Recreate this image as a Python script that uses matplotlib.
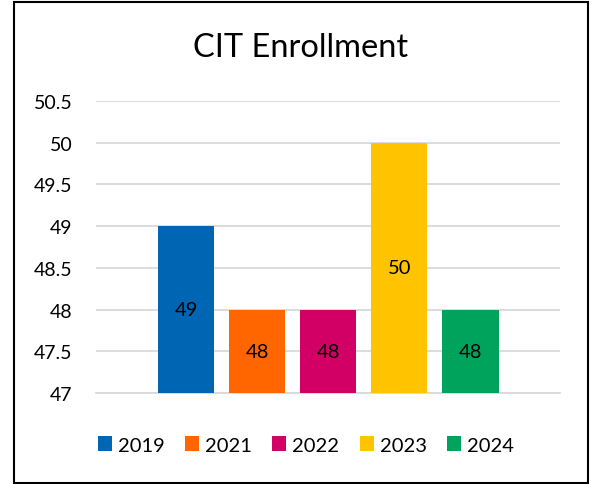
import matplotlib
matplotlib.use("Agg")
import matplotlib.pyplot as plt
from matplotlib.patches import Rectangle

categories = ["2019", "2021", "2022", "2023", "2024"]
values = [49, 48, 48, 50, 48]
colors = ["#0066B3", "#FF6600", "#D20064", "#FFC300", "#00A35C"]
yticks = [47, 47.5, 48, 48.5, 49, 49.5, 50, 50.5]
ytick_labels = ["47", "47.5", "48", "48.5", "49", "49.5", "50", "50.5"]
title = "CIT Enrollment"

plt.rcParams['font.family'] = ['Lato', 'DejaVu Sans']

fig = plt.figure(figsize=(5.91, 4.85), dpi=100)
W, H = 591, 485
ax = fig.add_axes([96 / W, (H - 394) / H, (560 - 96) / W, (394 - 102) / H])

base = 47
for i, (cat, v, c) in enumerate(zip(categories, values, colors)):
    ax.bar(i, v - base, bottom=base, width=0.79, color=c, label=cat, zorder=3)
    ax.text(i, base + (v - base) / 2, f"{v:g}", ha="center", va="center",
            fontsize=14.5, color="black", zorder=4)

ax.set_ylim(47, 50.5)
ax.set_xlim(-1.27, 5.26)
ax.set_yticks(yticks)
ax.set_yticklabels(ytick_labels, fontsize=14)
ax.set_xticks([])
ax.tick_params(axis="y", length=0, pad=17)
ax.grid(axis="y", color="#D9D9D9", linewidth=1.3, zorder=0)
for s in ["top", "right", "left"]:
    ax.spines[s].set_visible(False)
ax.spines["bottom"].set_color("#D9D9D9")
ax.spines["bottom"].set_linewidth(1.3)

fig.text(0.509, (H - 48) / H, title, ha="center", va="center", fontsize=23.5)

fig.legend(loc="center", bbox_to_anchor=(306 / W, (H - 446) / H), ncol=5,
           frameon=False, fontsize=14.5, handlelength=0.7, handleheight=0.7,
           handletextpad=0.3, columnspacing=1.0)

fig.patches.append(Rectangle((14 / W, 1.5 / H), (588 - 14) / W, (482 - 1.5) / H,
                             transform=fig.transFigure, fill=False,
                             edgecolor="black", linewidth=1.5))

fig.savefig("out.png", dpi=100)
